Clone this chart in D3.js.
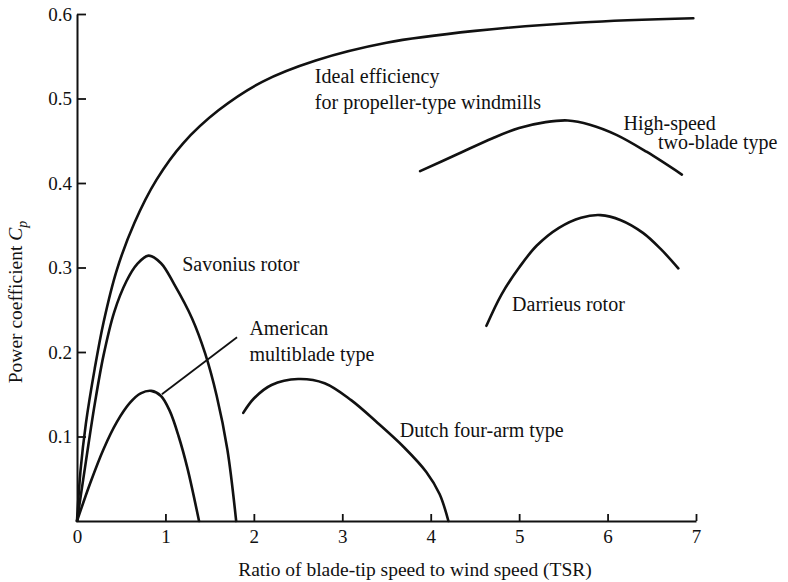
<!DOCTYPE html>
<html>
<head>
<meta charset="utf-8">
<script src="https://cdn.jsdelivr.net/npm/d3@7"></script>
<style>
  body { margin: 0; background: #fff; }
  text { font-family: "Liberation Serif", "DejaVu Serif", serif; fill: #111; }
</style>
</head>
<body>
<script>
// curves: [TSR, Cp]
var ideal = [[0,0],[0.04,0.06],[0.1,0.115],[0.2,0.18],[0.3,0.235],[0.45,0.297],[0.65,0.353],[0.9,0.404],
  [1.2,0.447],[1.6,0.486],[2.1,0.52],[2.7,0.545],[3.5,0.566],[4.5,0.58],[5.7,0.59],[6.97,0.595]];
var savonius = [[0,0],[0.1,0.07],[0.2,0.138],[0.3,0.196],[0.42,0.247],[0.56,0.284],[0.68,0.304],[0.81,0.314],
  [0.95,0.305],[1.1,0.28],[1.3,0.24],[1.45,0.198],[1.58,0.148],[1.7,0.085],[1.8,0]];
var multiblade = [[0,0],[0.15,0.045],[0.3,0.085],[0.45,0.117],[0.6,0.14],[0.72,0.151],[0.84,0.154],
  [0.95,0.148],[1.05,0.13],[1.15,0.1],[1.25,0.062],[1.38,0]];
var dutch = [[1.88,0.128],[2.0,0.145],[2.2,0.161],[2.5,0.168],[2.8,0.163],[3.1,0.143],[3.4,0.116],
  [3.7,0.087],[3.95,0.058],[4.1,0.032],[4.2,0]];
var highSpeed = [[3.88,0.414],[4.3,0.434],[4.7,0.453],[5.0,0.465],[5.3,0.472],[5.55,0.474],[5.8,0.469],
  [6.1,0.457],[6.44,0.437],[6.84,0.41]];
var darrieus = [[4.63,0.231],[4.8,0.268],[5.0,0.3],[5.2,0.326],[5.45,0.347],[5.7,0.359],[5.92,0.362],
  [6.15,0.356],[6.4,0.341],[6.6,0.322],[6.8,0.299]];

var leader = [[0.96,0.15],[1.81,0.2175]];

var labels = [
  {text: "Ideal efficiency", x: 2.69, y: 0.518},
  {text: "for propeller-type windmills", x: 2.69, y: 0.487},
  {text: "High-speed", x: 6.18, y: 0.463},
  {text: "two-blade type", x: 6.57, y: 0.44},
  {text: "Savonius rotor", x: 1.19, y: 0.296},
  {text: "American", x: 1.95, y: 0.22},
  {text: "multiblade type", x: 1.95, y: 0.189},
  {text: "Dutch four-arm type", x: 3.65, y: 0.1},
  {text: "Darrieus rotor", x: 4.92, y: 0.248}
];

var xTicks = [0, 1, 2, 3, 4, 5, 6, 7];
var yTicks = [0.1, 0.2, 0.3, 0.4, 0.5, 0.6];

var width = 788, height = 582;

var svg = d3.select("body").append("svg")
  .attr("width", width)
  .attr("height", height);

var x = d3.scaleLinear().domain([0, 7]).range([77, 696]);
var y = d3.scaleLinear().domain([0, 0.6]).range([521, 14]);

var xAxis = svg.append("g")
  .attr("transform", "translate(0," + y(0) + ")")
  .call(d3.axisBottom(x).tickValues(xTicks).tickFormat(d3.format("d"))
    .tickSizeInner(-7).tickSizeOuter(0).tickPadding(9));

var yAxis = svg.append("g")
  .attr("transform", "translate(" + x(0) + ",0)")
  .call(d3.axisLeft(y).tickValues(yTicks).tickFormat(d3.format(".1f"))
    .tickSizeInner(-9).tickSizeOuter(0).tickPadding(5));

[xAxis, yAxis].forEach(function(g) {
  g.select(".domain").attr("stroke", "#111").attr("stroke-width", 2);
  g.selectAll(".tick line").attr("stroke", "#111").attr("stroke-width", 1.8);
  g.selectAll(".tick text")
    .style("font-family", "'Liberation Serif', serif")
    .style("font-size", "19px")
    .attr("fill", "#111");
});
xAxis.selectAll(".tick").filter(function(d) { return d === 0; }).select("line").remove();

var line = d3.line()
  .x(function(d) { return x(d[0]); })
  .y(function(d) { return y(d[1]); })
  .curve(d3.curveCatmullRom.alpha(0.5));

svg.append("g")
  .selectAll("path")
  .data([ideal, savonius, multiblade, dutch, highSpeed, darrieus])
  .enter()
  .append("path")
  .attr("d", line)
  .attr("fill", "none")
  .attr("stroke", "#111")
  .attr("stroke-width", 2.6)
  .attr("stroke-linecap", "round");

svg.append("path")
  .datum(leader)
  .attr("d", d3.line().x(function(d) { return x(d[0]); }).y(function(d) { return y(d[1]); }))
  .attr("fill", "none")
  .attr("stroke", "#111")
  .attr("stroke-width", 1.8);

svg.append("g")
  .selectAll("text")
  .data(labels)
  .enter()
  .append("text")
  .attr("x", function(d) { return x(d.x); })
  .attr("y", function(d) { return y(d.y); })
  .style("font-size", "20px")
  .text(function(d) { return d.text; });

svg.append("text")
  .attr("x", 415)
  .attr("y", 576)
  .attr("text-anchor", "middle")
  .style("font-size", "19.5px")
  .text("Ratio of blade-tip speed to wind speed (TSR)");

var yt = svg.append("text")
  .attr("transform", "translate(22,302) rotate(-90)")
  .attr("text-anchor", "middle")
  .style("font-size", "19.5px");
yt.append("tspan").text("Power coefficient ");
yt.append("tspan").style("font-style", "italic").text("C");
yt.append("tspan").style("font-style", "italic").style("font-size", "14px").attr("dy", 5).text("p");
</script>
</body>
</html>
